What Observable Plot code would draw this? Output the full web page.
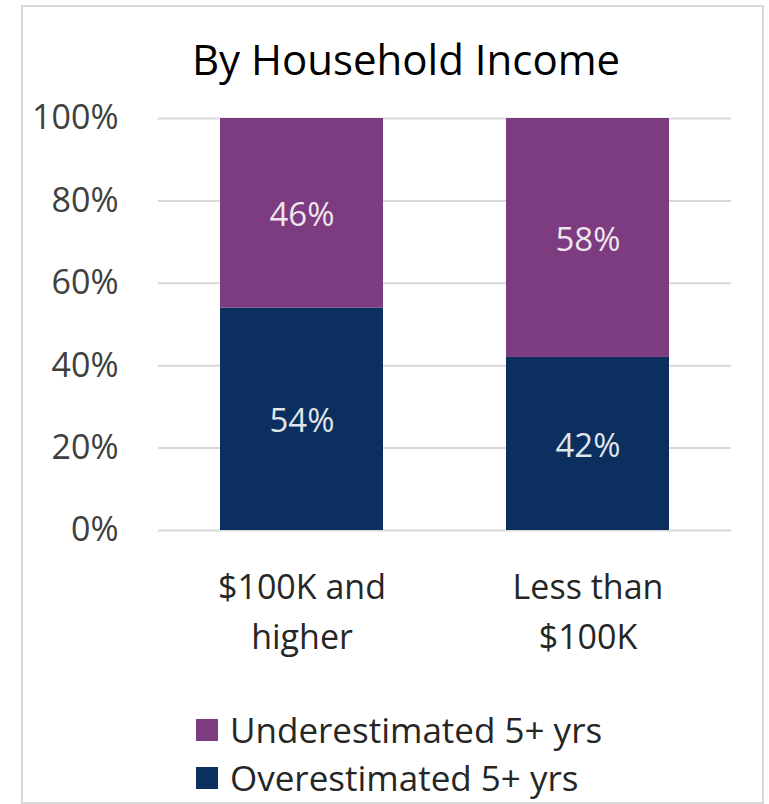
<!DOCTYPE html>
<html>
<head>
<meta charset="utf-8">
<script src="https://cdn.jsdelivr.net/npm/d3@7"></script>
<script src="https://cdn.jsdelivr.net/npm/@observablehq/plot@0.6"></script>
<style>
  html, body { margin: 0; padding: 0; background: #fff; }
  body { width: 769px; height: 804px; position: relative; overflow: hidden; font-family: "Open Sans", sans-serif; }
  #frame { position: absolute; left: 21px; top: 5px; width: 743px; height: 799px; box-sizing: border-box; border: 2px solid #d9d9d9; }
  #title { position: absolute; left: 0; width: 812px; top: 38px; text-align: center; font-size: 42px; line-height: 42px; color: #000; white-space: nowrap; }
  #chart { position: absolute; left: 0; top: 90px; }
  .leg { position: absolute; left: 196px; font-size: 35px; line-height: 35px; color: #262626; white-space: nowrap; }
  .leg .sw { position: absolute; left: 0; top: 7px; width: 22px; height: 22px; }
  .leg .lab { position: absolute; left: 34px; top: 0; }
</style>
</head>
<body>
<div id="frame"></div>
<div id="title">By Household Income</div>
<div id="chart"></div>
<div id="legend"></div>
<script>
const categories = ["$100K and higher", "Less than $100K"];
const tickLabels = ["$100K and\nhigher", "Less than\n$100K"];
const seriesNames = ["Overestimated 5+ yrs", "Underestimated 5+ yrs"];
const overestimated = [54, 42];
const underestimated = [46, 58];
const seriesColors = ["#0b2f5f", "#7d3c7f"];
const yTicks = [0, 20, 40, 60, 80, 100];

const table = [];
categories.forEach((c, i) => {
  table.push({category: c, series: seriesNames[0], value: overestimated[i]});
  table.push({category: c, series: seriesNames[1], value: underestimated[i]});
});

const plot = Plot.plot({
  width: 769,
  height: 590,
  marginLeft: 158,
  marginRight: 38,
  marginTop: 28,
  marginBottom: 150,
  style: {fontFamily: "'Open Sans', sans-serif", background: "transparent"},
  x: {domain: categories, paddingInner: 0.43, paddingOuter: 0.215, label: null},
  y: {domain: [0, 100], label: null},
  color: {domain: seriesNames, range: seriesColors},
  marks: [
    Plot.gridY(yTicks, {stroke: "#d9d9d9", strokeOpacity: 1, strokeWidth: 2}),
    Plot.barY(table, {x: "category", y: "value", z: "series", fill: "series", order: null}),
    Plot.text(table, Plot.stackY({x: "category", y: "value", z: "series", order: null,
      text: d => d.value + "%", fill: "#ffffff", fillOpacity: 0.88, fontSize: 33, dy: 2})),
    Plot.axisY(yTicks, {tickSize: 0, tickPadding: 40, tickFormat: d => d + "%", fontSize: 34, fill: "#404040", label: null}),
    Plot.axisX({tickSize: 0, tickPadding: 33, tickFormat: d => tickLabels[categories.indexOf(d)], fontSize: 34, lineHeight: 1.47, fill: "#262626", label: null})
  ]
});
document.getElementById("chart").appendChild(plot);

// legend (top row = Underestimated, bottom = Overestimated)
const legendOrder = [1, 0];
const tops = [712, 760];
const legend = document.getElementById("legend");
legendOrder.forEach((si, r) => {
  const row = document.createElement("div");
  row.className = "leg";
  row.style.top = tops[r] + "px";
  const sw = document.createElement("div");
  sw.className = "sw";
  sw.style.background = seriesColors[si];
  const lab = document.createElement("div");
  lab.className = "lab";
  lab.textContent = seriesNames[si];
  row.appendChild(sw);
  row.appendChild(lab);
  legend.appendChild(row);
});
</script>
</body>
</html>
